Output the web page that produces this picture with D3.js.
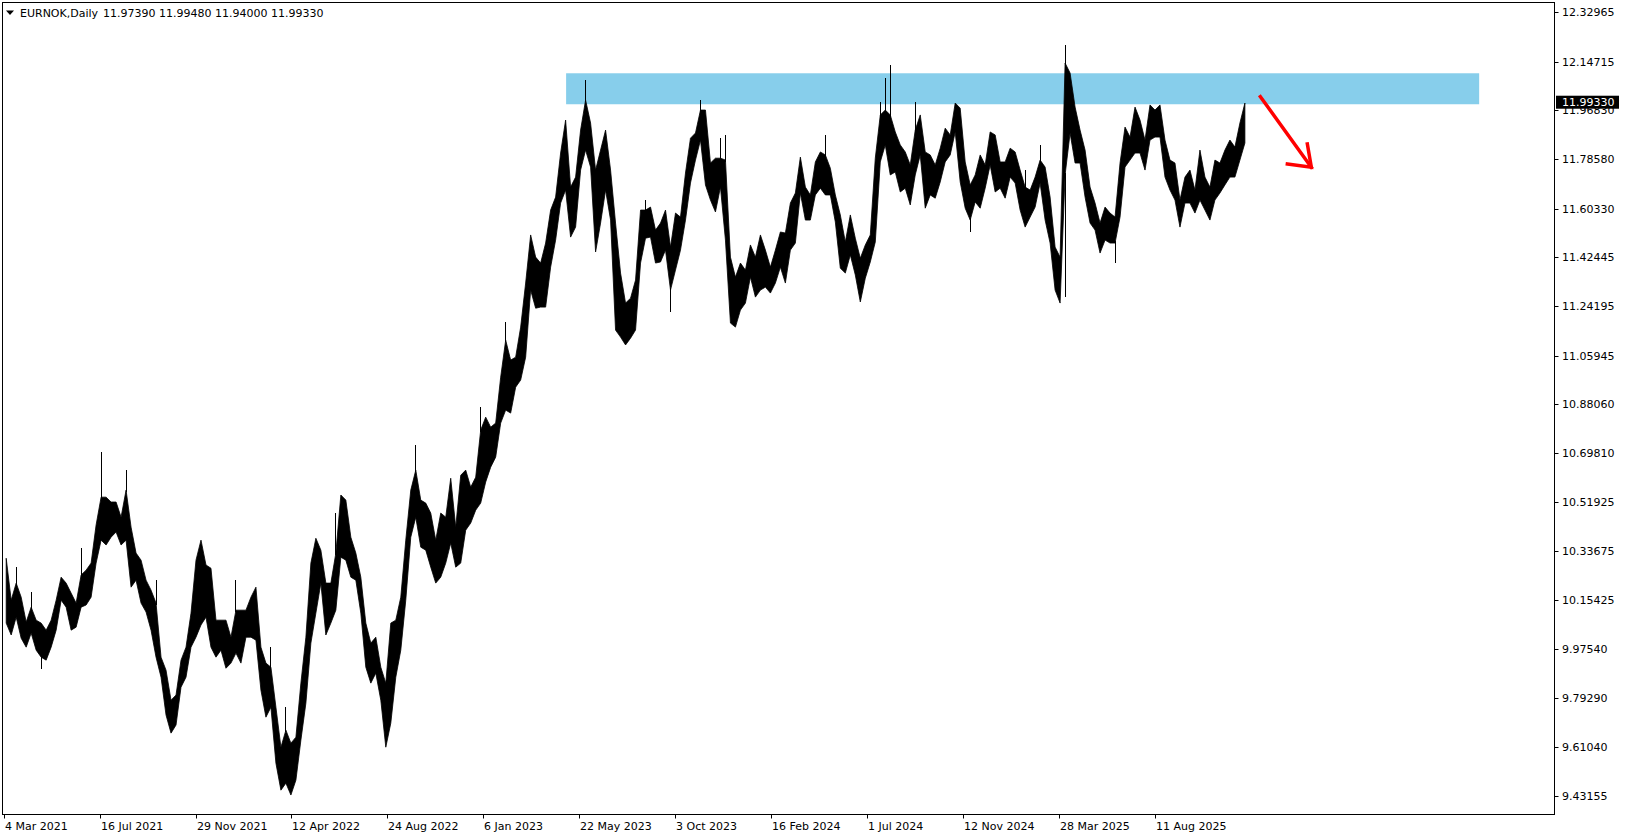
<!DOCTYPE html>
<html><head><meta charset="utf-8">
<script src="https://cdn.jsdelivr.net/npm/d3@7"></script>
<style>
html,body{margin:0;padding:0;background:#fff;overflow:hidden}
svg{display:block}
text{font-family:"DejaVu Sans",Verdana,sans-serif;font-size:11px;fill:#000}
</style>
</head><body><svg id="c" width="1625" height="838"></svg>
<script>
// ---- data (weekly high/low of EURNOK daily bars) ----
const symbol = "EURNOK,Daily";
const lastOHLC = ["11.97390", "11.99480", "11.94000", "11.99330"];
const lastClose = 11.9933;

const weekHigh = [
10.310,10.155,10.218,10.166,10.074,10.129,10.081,10.070,10.044,10.081,
10.155,10.240,10.218,10.181,10.144,10.248,10.266,10.292,10.433,10.536,
10.536,10.518,10.518,10.462,10.562,10.425,10.329,10.303,10.229,10.192,
10.144,9.944,9.896,9.785,9.804,9.933,9.981,10.107,10.303,10.377,
10.285,10.273,10.081,10.081,10.081,10.018,10.118,10.118,10.118,10.166,
10.203,9.981,9.922,9.907,9.759,9.611,9.674,9.626,9.648,9.848,
10.018,10.292,10.384,10.340,10.218,10.218,10.329,10.544,10.525,10.388,
10.329,10.240,10.070,9.996,10.018,9.907,9.848,10.070,10.081,10.166,
10.377,10.562,10.636,10.525,10.514,10.477,10.377,10.477,10.462,10.606,
10.425,10.617,10.636,10.573,10.610,10.784,10.832,10.795,10.810,10.980,
11.117,11.043,11.054,11.165,11.328,11.506,11.424,11.402,11.476,11.598,
11.646,11.809,11.931,11.683,11.720,11.894,12.005,11.920,11.746,11.820,
11.894,11.746,11.550,11.365,11.254,11.272,11.339,11.598,11.598,11.609,
11.524,11.550,11.598,11.461,11.587,11.572,11.735,11.864,11.883,11.968,
11.968,11.772,11.790,11.790,11.783,11.424,11.350,11.402,11.376,11.469,
11.424,11.506,11.450,11.387,11.450,11.517,11.513,11.624,11.661,11.794,
11.683,11.654,11.776,11.813,11.802,11.753,11.654,11.580,11.480,11.580,
11.494,11.420,11.469,11.506,11.790,11.950,11.968,11.950,11.887,11.839,
11.813,11.765,11.894,11.950,11.813,11.802,11.765,11.827,11.901,11.876,
11.994,11.975,11.776,11.691,11.728,11.802,11.765,11.887,11.876,11.776,
11.776,11.827,11.813,11.746,11.683,11.672,11.720,11.783,11.757,11.646,
11.461,11.424,12.142,12.105,11.979,11.894,11.820,11.683,11.624,11.550,
11.609,11.587,11.572,11.772,11.905,11.868,11.979,11.931,11.857,11.987,
11.968,11.987,11.857,11.783,11.772,11.635,11.720,11.746,11.672,11.820,
11.720,11.683,11.783,11.772,11.820,11.857,11.831,11.920,11.994
];
const weekLow = [
10.070,10.026,10.092,10.014,9.981,10.033,9.970,9.944,9.933,9.981,
10.044,10.155,10.129,10.044,10.055,10.129,10.137,10.166,10.292,10.377,
10.359,10.388,10.407,10.359,10.377,10.203,10.229,10.144,10.111,10.044,
9.944,9.870,9.730,9.663,9.693,9.833,9.870,9.981,10.018,10.063,
10.092,9.981,9.944,9.970,9.903,9.922,9.959,9.922,10.018,10.018,
10.007,9.822,9.722,9.759,9.552,9.452,9.478,9.434,9.489,9.637,
9.774,9.996,10.107,10.218,10.026,10.070,10.118,10.314,10.303,10.240,
10.229,10.107,9.907,9.848,9.885,9.785,9.611,9.700,9.870,9.970,
10.155,10.388,10.462,10.351,10.340,10.277,10.218,10.240,10.292,10.366,
10.277,10.292,10.414,10.440,10.488,10.514,10.592,10.647,10.684,10.810,
10.858,10.847,10.943,10.969,11.054,11.302,11.235,11.239,11.239,11.387,
11.487,11.624,11.672,11.498,11.535,11.746,11.820,11.757,11.443,11.550,
11.672,11.561,11.154,11.128,11.099,11.124,11.154,11.402,11.494,11.498,
11.402,11.406,11.450,11.302,11.376,11.450,11.561,11.698,11.783,11.857,
11.691,11.635,11.591,11.683,11.487,11.180,11.165,11.228,11.254,11.350,
11.276,11.302,11.313,11.291,11.328,11.387,11.328,11.450,11.476,11.661,
11.561,11.561,11.654,11.679,11.654,11.654,11.554,11.383,11.365,11.432,
11.358,11.258,11.346,11.406,11.480,11.776,11.839,11.728,11.739,11.665,
11.679,11.617,11.728,11.802,11.605,11.654,11.642,11.702,11.776,11.802,
11.887,11.702,11.605,11.561,11.628,11.605,11.679,11.765,11.665,11.679,
11.642,11.720,11.698,11.598,11.535,11.572,11.609,11.698,11.561,11.476,
11.302,11.254,11.728,11.883,11.772,11.772,11.646,11.550,11.524,11.439,
11.487,11.476,11.476,11.572,11.757,11.783,11.809,11.809,11.746,11.857,
11.868,11.868,11.720,11.672,11.635,11.535,11.624,11.624,11.587,11.635,
11.598,11.561,11.635,11.661,11.691,11.720,11.720,11.783,11.846
];
// single-day extremes that poke out of the weekly mass
const spikeWeek  = [2,5,7,15,19,24,30,46,53,56,66,82,95,100,116,128,133,139,143,144,164,175,176,177,182,193,204,207,212,212,222];
const spikePrice = [10.277,10.185,9.900,10.348,10.703,10.636,10.229,10.229,9.981,9.759,10.477,10.729,10.869,11.184,12.079,11.635,11.221,12.005,11.864,11.876,11.876,11.998,12.086,12.135,11.998,11.517,11.746,11.839,12.209,11.276,11.402];

const yTickValues = [12.32965,12.14715,11.96830,11.78580,11.60330,11.42445,11.24195,11.05945,10.88060,10.69810,10.51925,10.33675,10.15425,9.97540,9.79290,9.61040,9.43155];
const xTickBars   = [0,96,192,288,384,480,576,672,768,864,960,1056,1152];
const xTickLabels = ["4 Mar 2021","16 Jul 2021","29 Nov 2021","12 Apr 2022","24 Aug 2022","6 Jan 2023","22 May 2023","3 Oct 2023","16 Feb 2024","1 Jul 2024","12 Nov 2024","28 Mar 2025","11 Aug 2025"];

const zoneBars = [563, 1477];
const zonePrices = [12.1041, 11.9895];
const arrowBars = [1258, 1309];
const arrowPrices = [12.0176, 11.7564];
const arrowHeadBars = [1285, 1309, 1305];
const arrowHeadPrices = [11.7686, 11.7564, 11.8426];
const barsPerWeek = 5;

// ---- layout ----
const frame = {left: 2.5, top: 2.5, right: 1554.5, bottom: 814.5};
const svg = d3.select("#c");
const x = d3.scaleLinear().domain([0, 1152]).range([3.7, 1154.5]);
const y = d3.scaleLinear().domain([9.43155, 12.32965]).range([795.7, 12.3]);

// frame
svg.append("rect").attr("x", frame.left).attr("y", frame.top)
  .attr("width", frame.right - frame.left).attr("height", frame.bottom - frame.top)
  .attr("fill", "#fff").attr("stroke", "#000").attr("stroke-width", 1);

const plot = svg.append("g");

// resistance zone
plot.append("rect")
  .attr("x", x(zoneBars[0])).attr("width", x(zoneBars[1]) - x(zoneBars[0]))
  .attr("y", y(zonePrices[0])).attr("height", y(zonePrices[1]) - y(zonePrices[0]))
  .attr("fill", "#87CEEB");

// price mass: band between weekly lows and highs
const weeks = d3.range(weekHigh.length);
const band = d3.area()
  .x(i => x(i * barsPerWeek + barsPerWeek / 2))
  .y0(i => y(weekLow[i]))
  .y1(i => y(weekHigh[i]))
  .curve(d3.curveLinear);
plot.append("path").attr("d", band(weeks))
  .attr("fill", "#000").attr("stroke", "#000").attr("stroke-width", 0.8).attr("stroke-linejoin", "round");

// spikes
plot.append("g").attr("shape-rendering", "crispEdges").selectAll("line").data(d3.range(spikeWeek.length)).join("line")
  .attr("x1", k => Math.round(x(spikeWeek[k] * barsPerWeek + 2)) + 0.5)
  .attr("x2", k => Math.round(x(spikeWeek[k] * barsPerWeek + 2)) + 0.5)
  .attr("y1", k => { const w = spikeWeek[k]; return spikePrice[k] > weekHigh[w] ? y(weekHigh[w]) + 2 : y(weekLow[w]) - 2; })
  .attr("y2", k => y(spikePrice[k]))
  .attr("stroke", "#000").attr("stroke-width", 1);

// arrow
const pt = (b, p) => [x(b), y(p)];
plot.append("path")
  .attr("d", d3.line()([pt(arrowBars[0], arrowPrices[0]), pt(arrowBars[1], arrowPrices[1])]))
  .attr("stroke", "#ff0000").attr("stroke-width", 3.5).attr("fill", "none").attr("stroke-linecap", "square");
plot.append("path")
  .attr("d", d3.line()(arrowHeadBars.map((b, i) => pt(b, arrowHeadPrices[i]))))
  .attr("stroke", "#ff0000").attr("stroke-width", 3.5).attr("fill", "none").attr("stroke-linejoin", "miter").attr("stroke-linecap", "square");

// right price axis
const ya = svg.append("g");
ya.selectAll("line").data(yTickValues).join("line")
  .attr("x1", frame.right).attr("x2", frame.right + 4)
  .attr("y1", d => Math.round(y(d)) + 0.5).attr("y2", d => Math.round(y(d)) + 0.5)
  .attr("stroke", "#000");
ya.selectAll("text").data(yTickValues).join("text")
  .attr("x", 1562).attr("y", d => Math.round(y(d)) + 4)
  .text(d => d.toFixed(5));

// current price label (drawn over the axis label beneath it, as in the terminal)
const cy = y(lastClose);
svg.append("rect").attr("x", 1556).attr("y", cy - 7.5).attr("width", 63).attr("height", 13).attr("fill", "#000");
svg.append("text").attr("x", 1562).attr("y", cy + 3).style("fill", "#fff").text(lastClose.toFixed(5));

// bottom time axis
const xa = svg.append("g");
xa.selectAll("line").data(xTickBars).join("line")
  .attr("x1", d => Math.round(x(d)) + 0.5).attr("x2", d => Math.round(x(d)) + 0.5)
  .attr("y1", frame.bottom).attr("y2", frame.bottom + 4)
  .attr("stroke", "#000");
xa.selectAll("text").data(xTickBars).join("text")
  .attr("x", d => Math.round(x(d)) + 1).attr("y", 829.5)
  .text((d, i) => xTickLabels[i]);

// header
svg.append("path").attr("d", "M6,10.5 L14,10.5 L10,15 Z").attr("fill", "#000");
svg.append("text").attr("x", 20).attr("y", 16.5).text(symbol);
svg.append("text").attr("x", 103).attr("y", 16.5).text(lastOHLC.join(" "));
</script>
</body></html>
